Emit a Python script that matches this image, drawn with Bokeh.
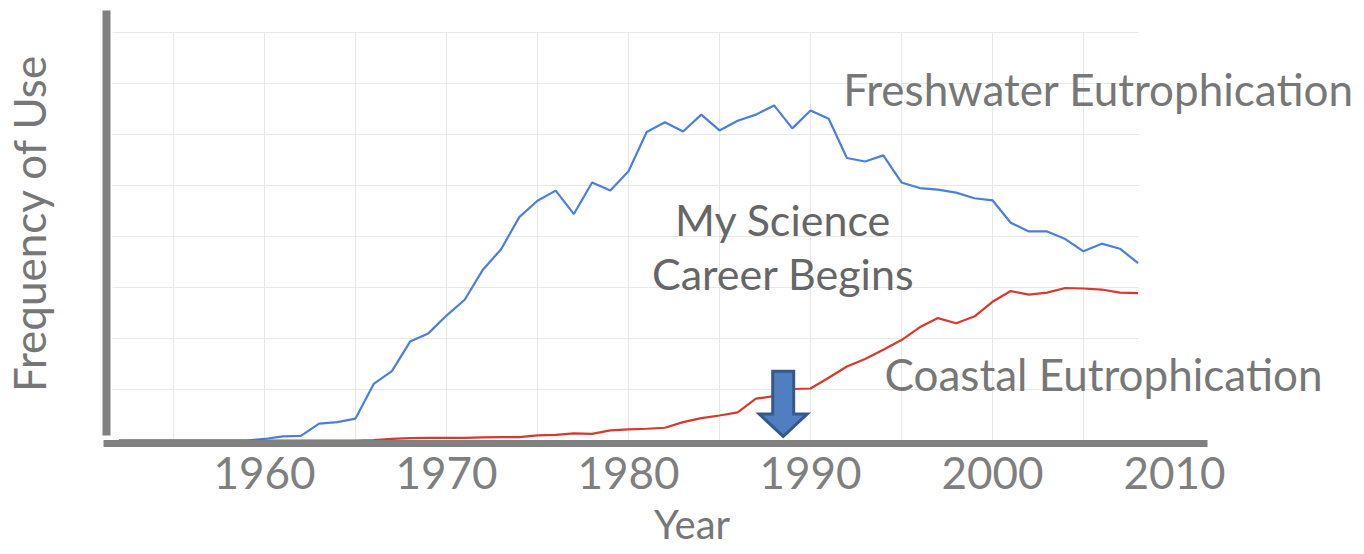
from bokeh.plotting import figure
from bokeh.models import Range1d, FixedTicker, Label
from bokeh.embed import file_html
from bokeh.resources import INLINE

# ---------------- data ----------------
YEARS = list(range(1952, 2009))
FRESHWATER = [0, 0, 0, 0, 0, 0, 0, 0,
              0.03, 0.08, 0.09, 0.33, 0.36, 0.43, 1.11, 1.36, 1.94, 2.10,
              2.45, 2.76, 3.35, 3.75, 4.38, 4.70, 4.90, 4.44, 5.06, 4.90,
              5.28, 6.05, 6.24, 6.06, 6.39, 6.08, 6.27, 6.39, 6.57, 6.12,
              6.47, 6.31, 5.54, 5.47, 5.59, 5.06, 4.95, 4.92, 4.86, 4.75,
              4.71, 4.27, 4.10, 4.10, 3.95, 3.71, 3.86, 3.76, 3.48]
COASTAL = [0, 0, 0, 0, 0, 0, 0, 0, 0, 0, 0, 0, 0, 0,
           0.01, 0.03, 0.045, 0.05,
           0.05, 0.05, 0.06, 0.065, 0.065, 0.10, 0.11, 0.14, 0.13, 0.20,
           0.22, 0.23, 0.25, 0.36, 0.44, 0.49, 0.55, 0.82, 0.87, 1.01,
           1.02, 1.23, 1.45, 1.60, 1.78, 1.97, 2.22, 2.40, 2.30, 2.43,
           2.72, 2.93, 2.86, 2.90, 2.99, 2.98, 2.96, 2.90, 2.89]
TICK_YEARS = [1960, 1970, 1980, 1990, 2000, 2010]
GRID_YEARS = [1955, 1960, 1965, 1970, 1975, 1980, 1985, 1990, 1995, 2000, 2005]
GRID_LEVELS = [1, 2, 3, 4, 5, 6, 7, 8]
CAREER_YEAR = 1988.5

# ---------------- geometry / style ----------------
FIG_W, FIG_H = 1364, 554
PX_PER_YEAR = 18.2
PX_PER_UNIT = 51.0
X0 = 1955 - 173 / PX_PER_YEAR
X1 = X0 + FIG_W / PX_PER_YEAR
Y1 = 440 / PX_PER_UNIT
Y0 = Y1 - FIG_H / PX_PER_UNIT

AXIS_X = 1951.32          # year where the vertical axis bar sits
AXIS_Y = -0.0588          # level where the horizontal axis bar sits
X_AXIS_BOUNDS = (1951.15, 2011.81)
Y_AXIS_BOUNDS = (0.098, 8.431)

GRAY_AXIS = "#808080"
GRAY_TEXT = "#777777"
FONT = "Lato"

p = figure(width=FIG_W, height=FIG_H,
           x_range=Range1d(X0, X1), y_range=Range1d(Y0, Y1),
           output_backend="svg", toolbar_location=None,
           min_border_left=0, min_border_top=0,
           min_border_right=0, min_border_bottom=0)
p.outline_line_color = None
p.background_fill_color = "white"
p.border_fill_color = "white"

# grids
p.xgrid.ticker = FixedTicker(ticks=GRID_YEARS)
p.ygrid.ticker = FixedTicker(ticks=GRID_LEVELS)
for g in (p.xgrid, p.ygrid):
    g.grid_line_color = "#e8e8e8"
    g.grid_line_width = 1
p.xgrid.cross_bounds = (0, GRID_LEVELS[-1])
p.ygrid.cross_bounds = (1951.65, YEARS[-1])

# x axis
xa = p.xaxis[0]
xa.fixed_location = AXIS_Y
xa.bounds = X_AXIS_BOUNDS
xa.ticker = FixedTicker(ticks=TICK_YEARS)
xa.axis_line_width = 7
xa.axis_line_color = GRAY_AXIS
xa.major_tick_line_color = None
xa.minor_tick_line_color = None
xa.major_label_text_font = FONT
xa.major_label_text_font_size = "44px"
xa.major_label_text_color = "#7f7f7f"
xa.major_label_standoff = 8

# y axis
ya = p.yaxis[0]
ya.fixed_location = AXIS_X
ya.bounds = Y_AXIS_BOUNDS
ya.ticker = FixedTicker(ticks=[])
ya.axis_line_width = 8
ya.axis_line_color = GRAY_AXIS
ya.major_tick_line_color = None
ya.minor_tick_line_color = None
ya.major_label_text_font_size = "0px"
ya.axis_label = "Frequency of Use"
ya.axis_label_text_font = FONT
ya.axis_label_text_font_size = "44px"
ya.axis_label_text_font_style = "normal"
ya.axis_label_text_color = GRAY_TEXT
ya.axis_label_standoff = 52

# lines
p.line(YEARS, FRESHWATER, line_color="#4a7fe0", line_width=2.2)
p.line(YEARS, COASTAL, line_color="#d9382e", line_width=2.2)

# arrow marking the career start
shaft_half = 10.5 / PX_PER_YEAR
head_half = 24 / PX_PER_YEAR
arrow_top = 1.36
head_base = 0.52
arrow_tip = 0.08
ax = [CAREER_YEAR - shaft_half, CAREER_YEAR + shaft_half, CAREER_YEAR + shaft_half,
      CAREER_YEAR + head_half, CAREER_YEAR, CAREER_YEAR - head_half, CAREER_YEAR - shaft_half]
ay = [arrow_top, arrow_top, head_base, head_base, arrow_tip, head_base, head_base]
p.patch(ax, ay, fill_color="#4f7fc0", line_color="#36598a", line_width=3, line_join="miter")

# annotations
def add_label(x, y, text, size, color=GRAY_TEXT, align="left"):
    p.add_layout(Label(x=x, y=y, text=text, text_font=FONT, text_font_size=size,
                       text_color=color, text_align=align, text_baseline="alphabetic"))

add_label(1991.80, 6.90, "Freshwater Eutrophication", "44px")
add_label(CAREER_YEAR, 4.34, "My Science", "43px", color="#666666", align="center")
add_label(CAREER_YEAR, 3.28, "Career Begins", "43px", color="#666666", align="center")
add_label(1994.07, 1.31, "Coastal Eutrophication", "44px")
add_label(1981.40, -1.64, "Year", "40px")

open("out.html", "w").write(file_html(p, INLINE))
